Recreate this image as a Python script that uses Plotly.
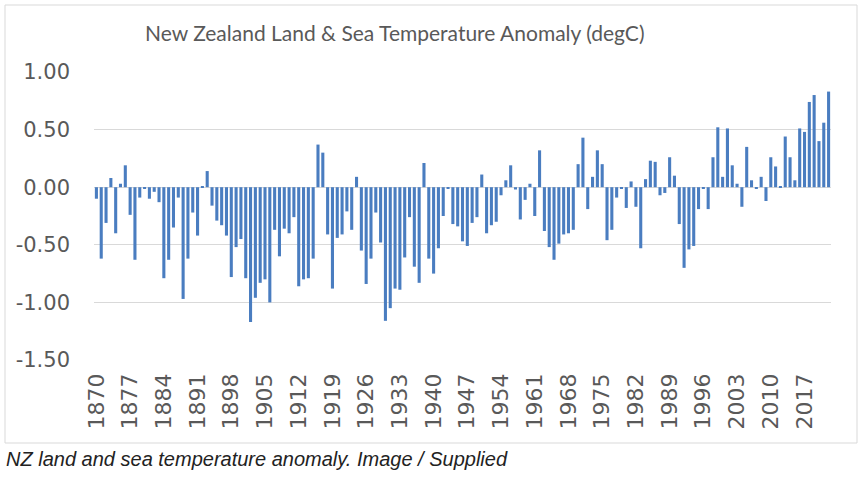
import plotly.graph_objects as go

years = list(range(1870, 2023))
anomaly = [
    # 1870-1879
    -0.10, -0.62, -0.31, 0.08, -0.40, 0.03, 0.19, -0.24, -0.63, -0.09,
    # 1880-1889
    -0.01, -0.10, -0.04, -0.13, -0.79, -0.63, -0.35, -0.09, -0.97, -0.62,
    # 1890-1899
    -0.22, -0.42, 0.01, 0.14, -0.16, -0.29, -0.33, -0.42, -0.78, -0.52,
    # 1900-1909
    -0.45, -0.79, -1.17, -0.96, -0.83, -0.80, -1.00, -0.37, -0.60, -0.36,
    # 1910-1919
    -0.40, -0.26, -0.86, -0.80, -0.79, -0.62, 0.37, 0.30, -0.41, -0.88,
    # 1920-1929
    -0.44, -0.41, -0.21, -0.37, 0.09, -0.55, -0.84, -0.62, -0.22, -0.48,
    # 1930-1939
    -1.16, -1.05, -0.88, -0.89, -0.61, -0.26, -0.69, -0.83, 0.21, -0.62,
    # 1940-1949
    -0.75, -0.53, -0.25, -0.01, -0.32, -0.34, -0.47, -0.51, -0.31, -0.26,
    # 1950-1959
    0.11, -0.40, -0.33, -0.30, -0.07, 0.06, 0.19, -0.02, -0.28, -0.11,
    # 1960-1969
    0.03, -0.25, 0.32, -0.38, -0.52, -0.63, -0.49, -0.41, -0.40, -0.37,
    # 1970-1979
    0.20, 0.43, -0.19, 0.09, 0.32, 0.20, -0.46, -0.37, -0.09, -0.01,
    # 1980-1989
    -0.18, 0.05, -0.17, -0.53, 0.07, 0.23, 0.22, -0.07, -0.05, 0.26,
    # 1990-1999
    0.10, -0.32, -0.70, -0.54, -0.51, -0.19, -0.01, -0.19, 0.26, 0.52,
    # 2000-2009
    0.09, 0.51, 0.19, 0.03, -0.17, 0.35, 0.06, -0.01, 0.09, -0.12,
    # 2010-2019
    0.26, 0.18, 0.01, 0.44, 0.26, 0.06, 0.51, 0.48, 0.74, 0.80,
    # 2020-2022
    0.40, 0.56, 0.83,
]

tick_years = list(range(1870, 2023, 7))
y_ticks = [1.0, 0.5, 0.0, -0.5, -1.0, -1.5]
y_ticktext = ["1.00", "0.50", "0.00", "-0.50", "-1.00", "-1.50"]

title_text = "New Zealand Land & Sea Temperature Anomaly (degC)"
caption_text = "NZ land and sea temperature anomaly. Image / Supplied"

W, H = 863, 479
L, R, T, B = 94, 32, 72, 119
pw, ph = W - L - R, H - T - B

def px(x):
    return (x - L) / pw

def py(y):
    return (H - B - y) / ph

fig = go.Figure(
    go.Bar(
        x=years,
        y=anomaly,
        marker=dict(color="#4a7dc0", line=dict(width=0)),
        hoverinfo="x+y",
    )
)

fig.update_layout(
    width=W,
    height=H,
    margin=dict(l=L, r=R, t=T, b=B),
    paper_bgcolor="white",
    plot_bgcolor="white",
    bargap=0.36,
    showlegend=False,
    xaxis=dict(
        type="category",
        tickmode="array",
        tickvals=tick_years,
        ticktext=[str(y) for y in tick_years],
        tickangle=-90,
        tickfont=dict(family="DejaVu Sans", size=22, color="#595959"),
        showgrid=False,
        showline=False,
        ticks="",
        zeroline=False,
        ticklabelstandoff=8,
    ),
    yaxis=dict(
        range=[-1.5, 1.0],
        tickmode="array",
        tickvals=y_ticks,
        ticktext=y_ticktext,
        tickfont=dict(family="DejaVu Sans", size=21, color="#595959"),
        showgrid=True,
        gridcolor="#d9d9d9",
        gridwidth=1,
        zeroline=False,
        showline=False,
        ticks="",
        ticklabelstandoff=23,
    ),
    shapes=[
        dict(
            type="rect", xref="paper", yref="paper",
            x0=px(5), x1=px(857), y0=py(443), y1=py(5),
            line=dict(color="#d9d9d9", width=1), fillcolor="rgba(0,0,0,0)",
            layer="below",
        )
    ],
    annotations=[
        dict(
            text=title_text, xref="paper", yref="paper",
            x=px(395), y=py(32), xanchor="center", yanchor="middle",
            showarrow=False,
            font=dict(family="Lato", size=21, color="#595959"),
        ),
        dict(
            text="<i>" + caption_text + "</i>", xref="paper", yref="paper",
            x=px(4), y=py(459), xanchor="left", yanchor="middle",
            showarrow=False,
            font=dict(family="Liberation Sans", size=20, color="#222222"),
        ),
    ],
)

fig.write_html(
    "out.html",
    config={"displayModeBar": False},
    post_script="document.body.style.margin='0';document.body.style.overflow='hidden';",
)
